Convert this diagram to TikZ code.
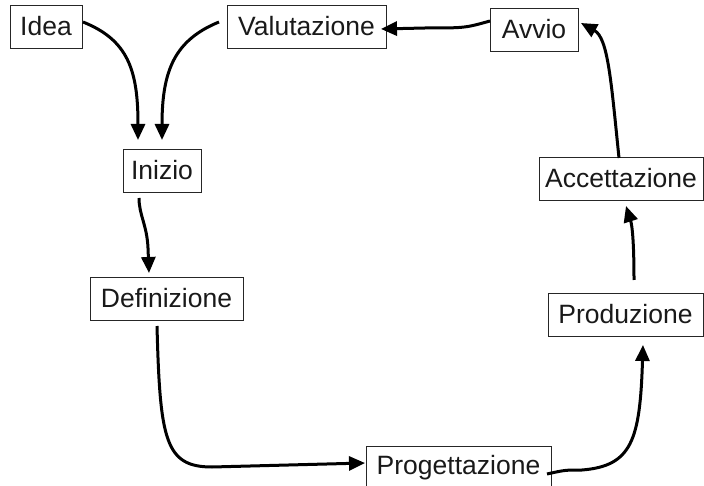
\documentclass[tikz,border=0pt]{standalone}
\usepackage{fontspec}
\setmainfont{Liberation Sans}
\usetikzlibrary{arrows.meta}
\begin{document}
\begin{tikzpicture}[x=1pt,y=-1pt,
  box/.style={draw=black!85, line width=0.9pt, inner sep=0pt, minimum height=43pt,
    font=\fontsize{26.5}{30}\selectfont, text=black!90},
  flow/.style={line width=3pt, -{Triangle[length=16pt,width=14pt]}}]
\clip (0,0) rectangle (704,486);
\useasboundingbox (0,0) rectangle (704,486);
\node[box, minimum width=72pt] (idea) at (46,26.5) {Idea};
\node[box, minimum width=159pt] (val) at (306.5,26.5) {Valutazione};
\node[box, minimum width=88pt] (avvio) at (534,29.5) {Avvio};
\node[box, minimum width=78pt] (inizio) at (162,170.5) {Inizio};
\node[box, minimum width=164pt] (acc) at (621,178.5) {Accettazione};
\node[box, minimum width=153pt] (def) at (166.5,298.5) {Definizione};
\node[box, minimum width=155pt] (prod) at (625.5,314.5) {Produzione};
\node[box, minimum width=185pt, minimum height=44pt] (prog) at (458.5,468) {Progettazione};
% free ends
\coordinate (ideaS) at (83,22);
\coordinate (inA) at (138,140);
\coordinate (valS) at (219,22);
\coordinate (inB) at (162,140);
\coordinate (avS) at (490,21);
\coordinate (valE) at (381,29);
\coordinate (accS) at (619,158);
\coordinate (avE) at (581,23);
\coordinate (prodS) at (634,280);
\coordinate (accE) at (626,206);
\coordinate (progS) at (547,474);
\coordinate (prodE) at (643,345);
\coordinate (defS) at (157,326);
\coordinate (progE) at (365,463);
\coordinate (inS) at (139,198);
\coordinate (defE) at (149,273);
\draw[flow] (ideaS) .. controls (128,40) and (138,70) .. (inA);
\draw[flow] (valS) .. controls (175,40) and (162,70) .. (inB);
\draw[flow] (avS) .. controls (465,28) .. (425,28) -- (valE);
\draw[flow] (accS) .. controls (611,80) and (608,38) .. (avE);
\draw[flow] (prodS) .. controls (634,240) and (632,225) .. (accE);
\draw[flow] (progS) .. controls (565,470) .. (582,470) .. controls (632,466) and (640,440) .. (prodE);
\draw[flow] (defS) .. controls (160,440) and (165,467) .. (212,467) -- (progE);
\draw[flow] (inS) .. controls (139,215) and (147,225) .. (148,248) -- (defE);
\end{tikzpicture}
\end{document}
